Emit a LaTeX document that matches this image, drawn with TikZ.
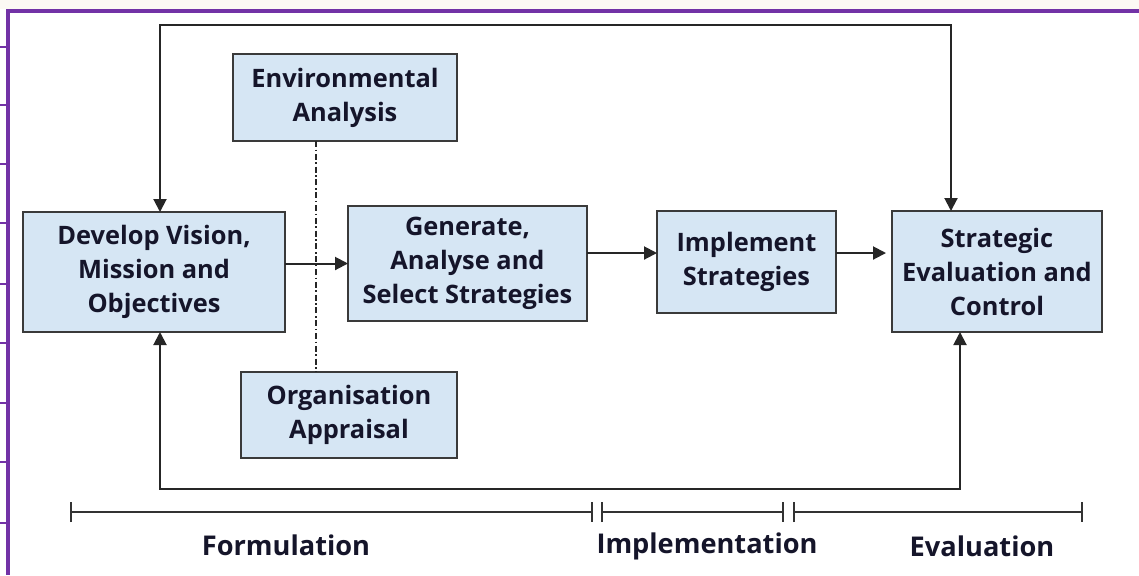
\documentclass[tikz,border=0pt]{standalone}
\usepackage{fontspec}
\setmainfont{Open Sans}
\usetikzlibrary{arrows.meta}
\definecolor{boxfill}{HTML}{D6E6F4}
\definecolor{boxline}{HTML}{3A3A3A}
\definecolor{frame}{HTML}{7232A6}
\definecolor{txt}{HTML}{15152A}
\definecolor{outer}{HTML}{FCF9F4}
\tikzset{
  box/.style={draw=boxline, line width=0.9pt, fill=boxfill, inner sep=0pt, outer sep=0pt,
    align=center, text=txt, font=\fontsize{12.7}{17}\selectfont\bfseries},
  conn/.style={draw=black!85, line width=1pt},
  arr/.style={conn, -{Triangle[length=6.5pt,width=6.5pt]}},
  twoarr/.style={conn, {Triangle[length=6.5pt,width=6.5pt]}-{Triangle[length=6.5pt,width=6.5pt]}},
  phase/.style={draw=black!80, line width=0.8pt, {Bar[width=10pt]}-{Bar[width=10pt]}},
  phaselabel/.style={text=txt, font=\fontsize{13.6}{16}\selectfont\bfseries},
  tick/.style={draw=frame, line width=0.8pt},
}
\begin{document}
\begin{tikzpicture}[x=0.5pt,y=-0.5pt]
\useasboundingbox (0,0) rectangle (1139,575);
\fill[white] (0,0) rectangle (1139,575);
\fill[outer] (0,0) rectangle (1139,9);
\fill[frame] (6,9) rectangle (1139,13);
\fill[frame] (6,9) rectangle (10,575);
\foreach \ty in {47,105,164,223,284,343,403,462,523}
  \draw[tick] (0,\ty) -- (6,\ty);

\node[box, minimum width=112pt, minimum height=43.5pt] (env) at (345,97.5) {Environmental\\Analysis};
\node[box, minimum width=131pt, minimum height=60pt] (dev) at (154,272) {Develop Vision,\\Mission and\\Objectives};
\node[box, minimum width=119.5pt, minimum height=57.5pt] (gen) at (467.5,263.5) {Generate,\\Analyse and\\Select Strategies};
\node[box, minimum width=89.5pt, minimum height=51pt] (impl) at (746.5,262) {Implement\\Strategies};
\node[box, minimum width=105pt, minimum height=60.5pt] (strat) at (997,271.5) {Strategic\\Evaluation and\\Control};
\node[box, minimum width=108pt, minimum height=43pt] (org) at (349,415) {Organisation\\Appraisal};

\coordinate (tl) at (160,25);
\coordinate (tr) at (951,25);
\coordinate (bl) at (160,489);
\coordinate (br) at (960,489);
\coordinate (row) at (0,253);
\coordinate (dd) at (316,0);

\draw[twoarr] (tl |- dev.north) -- (tl) -- (tr) -- (tr |- strat.north);
\draw[twoarr] (bl |- dev.south) -- (bl) -- (br) -- (br |- strat.south);
\draw[arr] (dev.east |- gen.west) -- (gen.west);
\draw[arr] (gen.east |- row) -- (impl.west |- row);
\draw[arr] (impl.east |- row) -- ([xshift=-3pt]strat.west |- row);
\draw[black!85, line width=0.6pt, dash pattern=on 3pt off 1.3pt on 0.8pt off 1.3pt] (env.south -| dd) -- (org.north -| dd);

\coordinate (p0) at (70,512);
\coordinate (p1) at (593,512);
\coordinate (p2) at (601,512);
\coordinate (p3) at (784,512);
\coordinate (p4) at (793,512);
\coordinate (p5) at (1083,512);
\draw[phase] (p0) -- (p1);
\draw[phase] (p2) -- (p3);
\draw[phase] (p4) -- (p5);
\node[phaselabel] (formulation) at (286,545) {Formulation};
\node[phaselabel] (implementation) at (707,546) {Implementation};
\node[phaselabel] (evaluation) at (982,546) {Evaluation};
\end{tikzpicture}
\end{document}
